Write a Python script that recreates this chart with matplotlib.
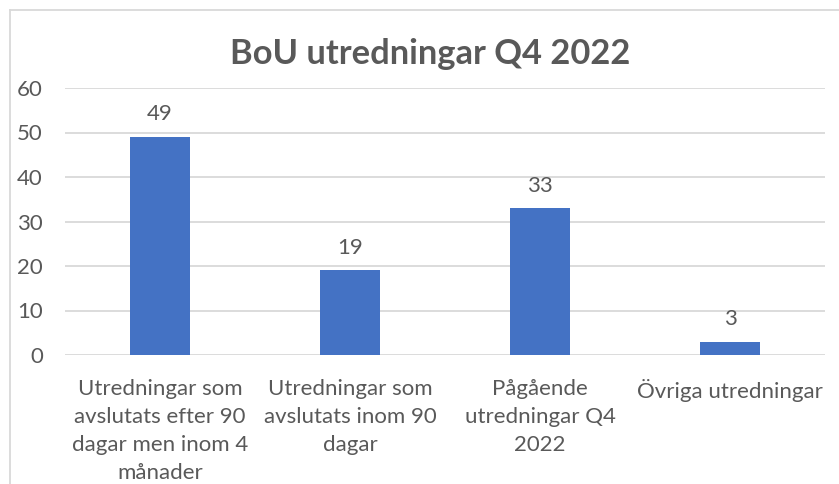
import matplotlib
matplotlib.use("Agg")
import matplotlib.pyplot as plt
from matplotlib.lines import Line2D

categories = [
    "Utredningar som\navslutats efter 90\ndagar men inom 4\nmånader",
    "Utredningar som\navslutats inom 90\ndagar",
    "Pågående\nutredningar Q4\n2022",
    "Övriga utredningar",
]
values = [49, 19, 33, 3]
yticks = [0, 10, 20, 30, 40, 50, 60]
title = "BoU utredningar Q4 2022"

TEXT = "#595959"
GRID = "#D9D9D9"
BAR = "#4472C4"

plt.rcParams['font.family'] = ['Lato', 'DejaVu Sans']

W, H = 839, 484
fig = plt.figure(figsize=(W / 100, H / 100), dpi=100)
ax = fig.add_axes([65 / W, (H - 355) / H, (825 - 65) / W, (355 - 88) / H])

x = list(range(len(values)))
bars = ax.bar(x, values, width=0.316, color=BAR, zorder=3)
ax.set_xlim(-0.5, len(values) - 0.5)
ax.set_ylim(0, 60)
ax.set_yticks(yticks)
ax.set_xticks(x)
ax.set_xticklabels(categories, fontsize=16, color=TEXT, linespacing=1.5, va='top')
ax.tick_params(axis='x', length=0, pad=17.5)
ax.tick_params(axis='y', length=0, pad=16, labelsize=16, labelcolor=TEXT)
ax.yaxis.grid(True, color=GRID, linewidth=1.3, zorder=0)
for s in ax.spines.values():
    s.set_visible(False)

for b, v in zip(bars, values):
    ax.annotate(str(v), (b.get_x() + b.get_width() / 2, v), xytext=(0, 9),
                textcoords='offset points', ha='center', va='bottom',
                fontsize=16, color=TEXT)

fig.text(430 / W, 1 - 54 / H, title, ha='center', va='center',
         fontsize=24.8, fontweight='bold', color=TEXT)

# chart area border (left and top edges visible)
fig.add_artist(Line2D([9.5 / W, 9.5 / W], [0, 1 - 10 / H], transform=fig.transFigure,
                      color=GRID, linewidth=1.3))
fig.add_artist(Line2D([9.5 / W, 1], [1 - 10 / H, 1 - 10 / H], transform=fig.transFigure,
                      color=GRID, linewidth=1.3))

fig.savefig("out.png", dpi=100, facecolor="white")
